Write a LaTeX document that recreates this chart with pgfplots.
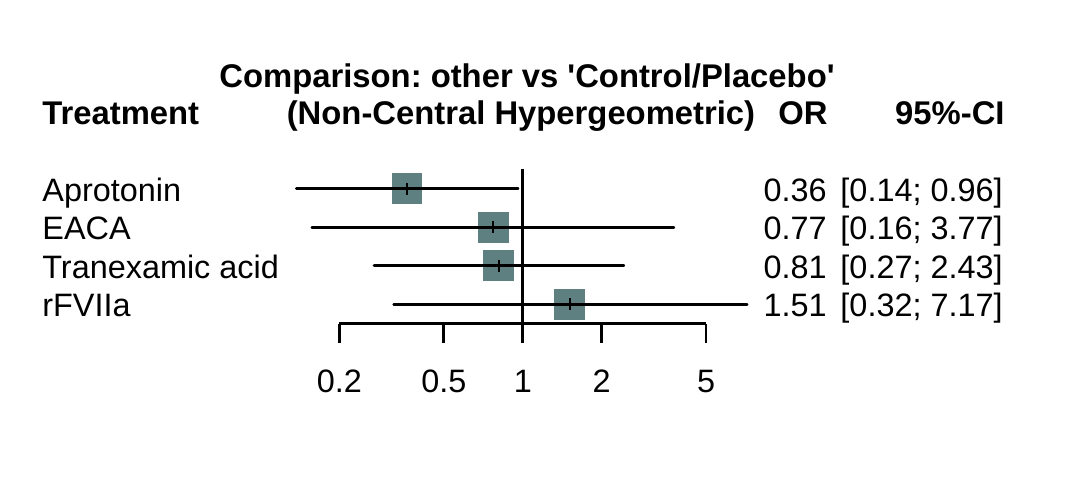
\documentclass[border=0pt]{standalone}
\usepackage{fontspec}
\setmainfont{Liberation Sans}
\usepackage{pgfplots}
\pgfplotsset{compat=1.18}
\definecolor{sq}{RGB}{95,128,128}
\newcommand{\fs}{\fontsize{16.2}{19}\selectfont}
\newcommand{\fb}{\fontsize{16.4}{19}\selectfont}
\frenchspacing
\begin{document}
\begin{tikzpicture}
\path[use as bounding box] (0pt,0pt) rectangle (540pt,-238.5pt);
\begin{axis}[at={(169.7pt,-161.75pt)}, anchor=south west, scale only axis,
  clip marker paths=true,
  width=183.35pt, height=77pt, xmode=log, xmin=0.2, xmax=5, ymin=-4.5, ymax=-0.5,
  axis x line=bottom, axis y line=none, axis line style={-, line width=1.3pt},
  xtick={0.2,0.5,1,2,5}, xticklabels={0.2,0.5,1,2,5}, minor xtick={},
  tick align=outside, major tick length=9.5pt, tick style={line width=1.3pt, black},
  xticklabel style={anchor=base, yshift=-24.75pt, font=\fs},
  clip=false]
\addplot[only marks, color=sq, mark=square*, mark size=7.4pt, mark options={fill=sq, draw=sq, line width=0pt}]
  coordinates {(0.362,-1)(0.772,-2)(0.81,-3)(1.51,-4)};
\addplot[black, line width=1.3pt] coordinates {(1,-0.48)(1,-4.5)};
\addplot[black, line width=1.3pt, line cap=round] coordinates {(0.137,-1)(0.96,-1)};
\addplot[black, line width=1.3pt, line cap=round] coordinates {(0.157,-2)(3.77,-2)};
\addplot[black, line width=1.3pt, line cap=round] coordinates {(0.271,-3)(2.43,-3)};
\addplot[black, line width=1.3pt, line cap=round] coordinates {(0.322,-4)(7.17,-4)};
\addplot[only marks, color=black, mark=|, mark size=2.9pt, mark options={line width=1.2pt, black}]
  coordinates {(0.362,-1)(0.772,-2)(0.81,-3)(1.51,-4)};
\end{axis}
\begin{scope}[x=0.5pt,y=-0.5pt]
\node[anchor=base, font=\bfseries\fb, inner sep=0pt] at (527,87) {Comparison: other vs \textquotesingle Control/Placebo\textquotesingle};
\node[anchor=base, font=\bfseries\fb, inner sep=0pt] at (521,124) {(Non-Central Hypergeometric)};
\node[anchor=base west, font=\bfseries\fb, inner sep=0pt] at (42,124) {Treatment};
\node[anchor=base east, font=\bfseries\fb, inner sep=0pt] at (828,124) {OR};
\node[anchor=base east, font=\bfseries\fb, inner sep=0pt] at (1005,124) {95\%-CI};
\foreach \lab/\orv/\ci/\yb in {Aprotonin/0.36/{[0.14; 0.96]}/201, EACA/0.77/{[0.16; 3.77]}/239.5, Tranexamic acid/0.81/{[0.27; 2.43]}/278, rFVIIa/1.51/{[0.32; 7.17]}/316.5}{
  \node[anchor=base west, font=\fs, inner sep=0pt] at (42,\yb) {\lab};
  \node[anchor=base east, font=\fs, inner sep=0pt] at (827,\yb) {\orv};
  \node[anchor=base east, font=\fs, inner sep=0pt] at (1003,\yb) {\ci};
}
\end{scope}
\end{tikzpicture}
\end{document}
